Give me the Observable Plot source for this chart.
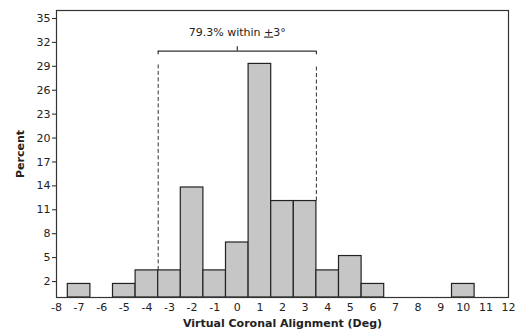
<!DOCTYPE html>
<html><head><meta charset="utf-8">
<script src="https://cdn.jsdelivr.net/npm/d3@7"></script>
<script src="https://cdn.jsdelivr.net/npm/@observablehq/plot@0.6"></script>
<style>
html,body{margin:0;padding:0;background:#fff;}
#chart svg{display:block;}
</style>
</head><body><div id="chart"></div>
<script>
// Data
const angles = [-7, -5, -4, -3, -2, -1, 0, 1, 2, 3, 4, 5, 6, 10];
const percents = [1.7, 1.7, 3.4, 3.4, 13.8, 3.4, 6.9, 29.3, 12.1, 12.1, 3.4, 5.2, 1.7, 1.7];
const yTicks = [2, 5, 8, 11, 14, 17, 20, 23, 26, 29, 32, 35];
const xTicks = [-8, -7, -6, -5, -4, -3, -2, -1, 0, 1, 2, 3, 4, 5, 6, 7, 8, 9, 10, 11, 12];
const bracketEdges = [-3.5, 3.5];
const bracketLevel = 30.9;
const dashTop = 29.2;
const annotationParts = ["79.3% within ", "+", "3°"];

const bars = angles.map((a, i) => ({x: a, y: percents[i]}));
const heightAt = a => { const b = bars.find(d => d.x === a); return b ? b.y : 0; };
const dashes = bracketEdges.map(e => ({x: e, y1: Math.max(heightAt(e - 0.5), heightAt(e + 0.5)), y2: dashTop}));
const mid = (bracketEdges[0] + bracketEdges[1]) / 2;

const font = "DejaVu Sans, Verdana, sans-serif";
const plot = Plot.plot({
  width: 517, height: 329,
  marginLeft: 56, marginRight: 9, marginTop: 10, marginBottom: 32,
  style: {fontFamily: font, fontSize: "11px", color: "#222", background: "#fff"},
  x: {domain: [-8, 12], label: null},
  y: {domain: [0, 36], label: null},
  marks: [
    Plot.rectY(bars, {x1: d => d.x - 0.5, x2: d => d.x + 0.5, y: "y", fill: "#c6c6c6", stroke: "#222", strokeWidth: 1.2, inset: 0}),
    Plot.ruleX(dashes, {x: "x", y1: "y1", y2: "y2", stroke: "#333", strokeDasharray: "4,2.5", strokeWidth: 1}),
    Plot.ruleY([bracketLevel], {x1: bracketEdges[0], x2: bracketEdges[1], stroke: "#333", strokeWidth: 1.2}),
    Plot.ruleX(bracketEdges, {y1: bracketLevel - 0.45, y2: bracketLevel, stroke: "#333", strokeWidth: 1.2}),
    Plot.ruleX([mid], {y1: bracketLevel, y2: bracketLevel + 0.55, stroke: "#333", strokeWidth: 1.2}),
    Plot.text([annotationParts.join("")], {x: mid, y: 33.3, text: d => d, fontSize: 11, fill: "#222", className: "annot"}),
    Plot.axisX({ticks: xTicks, tickSize: 0, tickPadding: 6, tickFormat: d => String(d), label: "Virtual Coronal Alignment (Deg)", labelAnchor: "center", labelArrow: "none", labelOffset: 29}),
    Plot.axisY({ticks: yTicks, tickSize: 4, tickPadding: 2, tickFormat: d => String(d), label: "Percent", labelAnchor: "center", labelArrow: "none", labelOffset: 40}),
    Plot.frame({stroke: "#333", strokeWidth: 1.2})
  ]
});
// bold axis labels
plot.querySelectorAll("[aria-label='x-axis label'] text, [aria-label='y-axis label'] text").forEach(t => { t.setAttribute("font-weight", "bold"); t.setAttribute("font-size", "11"); });
// underline the "+" to render the ± notation used in the reference
const ns = "http://www.w3.org/2000/svg";
plot.querySelectorAll(".annot text").forEach(t => {
  t.textContent = "";
  annotationParts.forEach((p, i) => {
    const s = document.createElementNS(ns, "tspan");
    s.textContent = p;
    if (i === 1) s.setAttribute("text-decoration", "underline");
    t.appendChild(s);
  });
});
document.getElementById("chart").appendChild(plot);
</script></body></html>
